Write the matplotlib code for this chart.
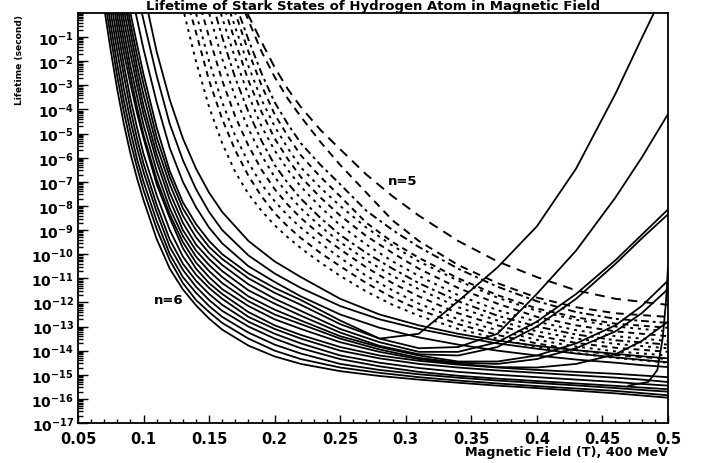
import numpy as np
import matplotlib
matplotlib.use("Agg")
import matplotlib.pyplot as plt
from matplotlib.ticker import FixedLocator, NullFormatter

nan = np.nan

# ---------------------------------------------------------------------------
# Values, as log10(lifetime / s)
# ---------------------------------------------------------------------------
field_n6 = [0.07, 0.075, 0.08, 0.085, 0.09, 0.095, 0.10, 0.11, 0.12, 0.13,
            0.14, 0.15, 0.16, 0.18, 0.20, 0.22, 0.25, 0.28, 0.31, 0.34,
            0.37, 0.40, 0.43, 0.46, 0.48, 0.50]

# n=6 states whose lifetime keeps falling with the field
n6_falling = [
    [0.2, -1.57, -3.19, -4.61, -5.83, -6.85, -7.76, -9.37, -10.6, -11.46, -12.12, -12.67, -13.13, -13.79, -14.24, -14.55, -14.85, -15.05, -15.2, -15.33, -15.45, -15.55, -15.66, -15.77, -15.86, -15.95],
    [0.7, -1.0, -2.65, -4.1, -5.35, -6.4, -7.35, -8.95, -10.25, -11.2, -11.9, -12.4, -12.85, -13.5, -14.0, -14.35, -14.7, -14.92, -15.1, -15.24, -15.36, -15.47, -15.57, -15.67, -15.76, -15.85],
    [1.15, -0.5, -2.15, -3.65, -4.9, -6.05, -7.0, -8.62, -10.0, -10.95, -11.6, -12.15, -12.6, -13.25, -13.75, -14.12, -14.55, -14.8, -14.98, -15.12, -15.24, -15.34, -15.44, -15.55, -15.63, -15.7],
    [1.7, 0.0, -1.6, -3.15, -4.45, -5.6, -6.6, -8.25, -9.7, -10.65, -11.35, -11.9, -12.35, -13.0, -13.5, -13.9, -14.35, -14.65, -14.88, -15.04, -15.16, -15.26, -15.36, -15.46, -15.53, -15.6],
    [2.2, 0.5, -1.1, -2.6, -4.0, -5.2, -6.25, -7.95, -9.4, -10.4, -11.1, -11.65, -12.1, -12.8, -13.3, -13.7, -14.2, -14.5, -14.72, -14.88, -15.0, -15.1, -15.2, -15.3, -15.38, -15.45],
    [2.8, 1.0, -0.6, -2.15, -3.55, -4.75, -5.85, -7.55, -9.0, -10.1, -10.85, -11.4, -11.85, -12.6, -13.1, -13.5, -14.0, -14.32, -14.55, -14.7, -14.82, -14.92, -15.02, -15.12, -15.2, -15.3],
    [nan, 1.5, -0.15, -1.65, -2.95, -4.15, -5.2, -7.1, -8.5, -9.75, -10.6, -11.2, -11.65, -12.4, -12.95, -13.35, -13.85, -14.2, -14.42, -14.58, -14.7, -14.8, -14.88, -14.96, -15.03, -15.1],
    [nan, nan, nan, nan, 1.0, -0.25, -1.5, -3.7, -5.6, -7.0, -8.05, -8.9, -9.55, -10.5, -11.15, -11.75, -12.5, -13.05, -13.45, -13.75, -14.0, -14.2, -14.37, -14.5, -14.6, -14.68],
    [nan, nan, nan, nan, nan, 0.9, -0.3, -2.6, -4.6, -6.1, -7.3, -8.25, -9.0, -10.05, -10.8, -11.4, -12.15, -12.7, -13.1, -13.42, -13.7, -13.92, -14.12, -14.28, -14.38, -14.48],
    [nan, nan, nan, nan, nan, nan, 0.9, -1.6, -3.6, -5.2, -6.45, -7.45, -8.25, -9.45, -10.3, -10.95, -11.85, -12.5, -12.95, -13.3, -13.58, -13.8, -13.98, -14.13, -14.23, -14.32],
]

# n=6 states that turn up again at high field
n6_rising = [
    [nan, 2.0, 0.3, -1.2, -2.6, -3.9, -5.05, -6.9, -8.35, -9.5, -10.35, -10.95, -11.45, -12.15, -12.7, -13.1, -13.65, -14.05, -14.35, -14.55, -14.68, -14.7, -14.55, -14.15, -13.6, -12.8],
    [nan, nan, 0.8, -0.75, -2.2, -3.45, -4.65, -6.55, -8.1, -9.25, -10.1, -10.7, -11.2, -11.95, -12.5, -12.9, -13.5, -13.95, -14.3, -14.5, -14.55, -14.35, -13.9, -13.2, -12.45, -11.45],
    [nan, nan, 1.3, -0.3, -1.7, -3.0, -4.2, -6.15, -7.75, -9.0, -9.85, -10.45, -10.95, -11.75, -12.3, -12.75, -13.4, -13.85, -14.2, -14.45, -14.45, -14.2, -13.7, -12.95, -12.15, -11.1],
    [nan, nan, 1.8, 0.15, -1.25, -2.6, -3.85, -5.85, -7.45, -8.7, -9.6, -10.2, -10.7, -11.5, -12.05, -12.55, -13.25, -13.8, -14.15, -14.2, -13.85, -13.0, -11.85, -10.4, -9.35, -8.35],
    [nan, nan, 2.3, 0.6, -0.8, -2.2, -3.4, -5.5, -7.1, -8.4, -9.3, -9.95, -10.45, -11.25, -11.85, -12.35, -13.1, -13.65, -14.05, -14.05, -13.65, -12.8, -11.65, -10.25, -9.2, -8.15],
    [nan, nan, nan, 1.0, -0.42, -1.75, -2.95, -5.15, -6.8, -8.1, -9.0, -9.7, -10.2, -11.0, -11.6, -12.1, -12.9, -13.5, -13.9, -13.85, -13.3, -11.65, -9.85, -7.65, -6.0, -4.2],
    [nan, nan, nan, 1.5, 0.0, -1.3, -2.55, -4.75, -6.55, -7.85, -8.75, -9.45, -10.0, -10.8, -11.4, -11.9, -12.75, -13.5, -13.3, -11.95, -10.55, -8.85, -6.45, -3.35, -1.05, 1.2],
]

# one state that shoots up right at the edge of the range
field_edge = [0.47, 0.485, 0.492, 0.496, 0.4985, 0.5]
edge_log = [-15.45, -15.3, -14.8, -13.5, -12.0, -10.6]

field_n5 = [0.12, 0.13, 0.14, 0.15, 0.16, 0.17, 0.18, 0.19, 0.20, 0.21, 0.22,
            0.235, 0.25, 0.27, 0.29, 0.31, 0.34, 0.37, 0.40, 0.43, 0.46, 0.50]

n5_curves = [
    [2.0, 0.2, -2.0, -3.9, -5.4, -6.6, -7.5, -8.2, -8.8, -9.3, -9.75, -10.35, -10.9, -11.55, -12.1, -12.55, -13.1, -13.5, -13.85, -14.1, -14.3, -14.5],
    [nan, 1.1, -0.8, -2.8, -4.4, -5.7, -6.75, -7.6, -8.3, -8.85, -9.33, -9.95, -10.5, -11.2, -11.8, -12.3, -12.9, -13.35, -13.7, -13.98, -14.18, -14.35],
    [nan, 1.8, 0.0, -2.0, -3.7, -5.1, -6.2, -7.1, -7.8, -8.4, -8.9, -9.55, -10.15, -10.9, -11.5, -12.05, -12.7, -13.15, -13.55, -13.83, -14.03, -14.2],
    [nan, 2.6, 0.9, -1.0, -2.8, -4.3, -5.5, -6.5, -7.3, -7.95, -8.5, -9.2, -9.8, -10.55, -11.2, -11.75, -12.45, -12.95, -13.38, -13.68, -13.88, -14.05],
    [nan, nan, 1.8, 0.0, -1.9, -3.5, -4.8, -5.9, -6.8, -7.5, -8.1, -8.85, -9.5, -10.25, -10.9, -11.45, -12.2, -12.75, -13.2, -13.5, -13.72, -13.9],
    [nan, nan, 2.6, 0.9, -1.0, -2.7, -4.1, -5.3, -6.3, -7.05, -7.7, -8.5, -9.2, -9.95, -10.6, -11.2, -11.95, -12.55, -13.0, -13.33, -13.57, -13.75],
    [nan, nan, nan, 1.6, -0.2, -1.9, -3.4, -4.7, -5.7, -6.5, -7.2, -8.05, -8.8, -9.6, -10.3, -10.9, -11.7, -12.32, -12.8, -13.15, -13.4, -13.6],
    [nan, nan, nan, 2.2, 0.5, -1.2, -2.8, -4.1, -5.2, -6.05, -6.8, -7.65, -8.4, -9.25, -9.95, -10.6, -11.4, -12.05, -12.6, -12.95, -13.2, -13.4],
    [nan, nan, nan, nan, 1.0, -0.6, -2.2, -3.6, -4.7, -5.6, -6.4, -7.25, -8.0, -8.9, -9.65, -10.3, -11.1, -11.8, -12.35, -12.72, -13.0, -13.2],
    [nan, nan, nan, nan, 1.6, 0.0, -1.6, -3.0, -4.2, -5.1, -5.9, -6.8, -7.6, -8.7, -9.5, -10.15, -11.0, -11.7, -12.25, -12.62, -12.88, -13.05],
    [nan, nan, nan, nan, 2.0, 0.4, -1.1, -2.5, -3.7, -4.6, -5.4, -6.3, -7.1, -8.2, -9.0, -9.7, -10.6, -11.35, -11.95, -12.4, -12.68, -12.85],
    [nan, nan, nan, nan, nan, 1.0, -0.3, -1.6, -2.65, -3.55, -4.3, -5.35, -6.3, -7.45, -8.6, -9.45, -10.45, -11.2, -11.8, -12.2, -12.45, -12.6],
    [nan, nan, nan, nan, nan, 1.0, -0.1, -1.2, -2.25, -3.15, -3.9, -4.85, -5.65, -6.7, -7.6, -8.4, -9.45, -10.3, -10.95, -11.5, -11.85, -12.1],
]

n5_styles = [(0, (1.5, 2.5)), (0, (3, 2.5)), (0, (1.5, 2.5)), (0, (3, 2.5)),
             (0, (1.5, 2.5)), (0, (4, 2, 1.5, 2)), (0, (1.5, 2.5)), (0, (3, 2.5)),
             (0, (1.5, 2.5)), (0, (3, 2.5)), (0, (4, 2, 1.5, 2)), (0, (4, 3)),
             (0, (5, 3.5))]

x_ticks = [0.05, 0.1, 0.15, 0.2, 0.25, 0.3, 0.35, 0.4, 0.45, 0.5]
x_tick_labels = ["0.05", "0.1", "0.15", "0.2", "0.25", "0.3", "0.35",
                 "0.4", "0.45", "0.5"]
decades = list(range(-17, 0))

# ---------------------------------------------------------------------------
# Figure
# ---------------------------------------------------------------------------
plt.rcParams["font.family"] = ["DejaVu Sans"]
plt.rcParams["font.weight"] = "bold"
plt.rcParams["mathtext.fontset"] = "dejavusans"

fig = plt.figure(figsize=(7.06, 4.64), dpi=100)
ax = fig.add_axes([0.1105, 0.0862, 0.8355, 0.8836])

for row in n6_falling:
    ax.semilogy(field_n6, 10.0 ** np.array(row), color="black", lw=1.3)
for row in n6_rising:
    ax.semilogy(field_n6, 10.0 ** np.array(row), color="black", lw=1.3)
ax.semilogy(field_edge, 10.0 ** np.array(edge_log), color="black", lw=1.3)
for row, ls in zip(n5_curves, n5_styles):
    ax.semilogy(field_n5, 10.0 ** np.array(row), color="black", lw=1.4,
                linestyle=ls)

ax.set_xlim(0.05, 0.5)
ax.set_ylim(1e-17, 1.0)

ax.set_xticks(x_ticks)
ax.set_xticklabels(x_tick_labels)
ax.set_xticks(np.arange(0.05, 0.5001, 0.01), minor=True)

ax.yaxis.set_major_locator(FixedLocator([10.0 ** d for d in decades]))
ax.set_yticklabels([r"$\mathbf{10^{%d}}$" % d for d in decades])
minor = [m * 10.0 ** d for d in range(-17, 0) for m in range(2, 10)]
ax.yaxis.set_minor_locator(FixedLocator(minor))
ax.yaxis.set_minor_formatter(NullFormatter())

ax.tick_params(axis="both", which="both", direction="in",
               top=False, right=False, width=1.0)
ax.tick_params(axis="x", which="major", length=6, labelsize=10.5, pad=6)
ax.tick_params(axis="x", which="minor", length=3)
ax.tick_params(axis="y", which="major", length=7, labelsize=10, pad=3)
ax.tick_params(axis="y", which="minor", length=3.5)
for sp in ax.spines.values():
    sp.set_linewidth(1.3)

ax.text(0.298, 10 ** -6.95, "n=5", fontsize=9.5, fontweight="bold",
        ha="center", va="center")
ax.text(0.119, 10 ** -11.87, "n=6", fontsize=9.5, fontweight="bold",
        ha="center", va="center")

fig.text(0.528, 0.999, "Lifetime of Stark States of Hydrogen Atom in Magnetic Field",
         ha="center", va="top", fontsize=9.5, fontweight="bold")
fig.text(0.028, 0.968, "Lifetime (second)", rotation=90, ha="center", va="top",
         fontsize=6.6, fontweight="bold")
fig.text(0.946, 0.024, "Magnetic Field (T), 400 MeV", ha="right", va="center",
         fontsize=9.2, fontweight="bold")

fig.savefig("out.png", dpi=100)
